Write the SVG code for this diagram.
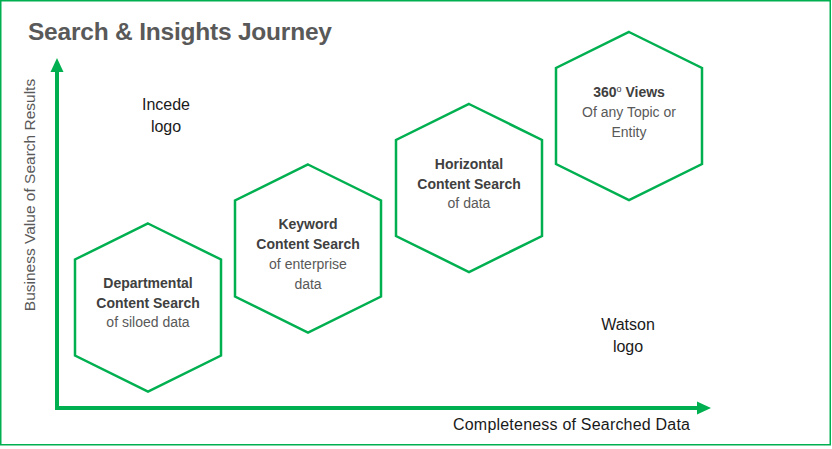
<svg xmlns="http://www.w3.org/2000/svg" width="832" height="449" viewBox="0 0 832 449">
<defs>
<style>
.hex{fill:#fff;stroke:#00b050;stroke-width:2.5;stroke-linejoin:miter}
.axis{stroke:#00b050;stroke-width:4;fill:none}
.t{font-family:"Liberation Sans",Arial,sans-serif;text-anchor:middle}
.b{font-size:14px;font-weight:bold;fill:#404040}
.r{font-size:14px;fill:#595959}
.lbl{font-size:16px;fill:#1a1a1a}
</style>
<polygon id="hexshape" points="0,-84 73,-48 73,48 0,84 -73,48 -73,-48"/>
</defs>
<rect x="0.75" y="0.75" width="829.5" height="444" fill="#fff" stroke="#00b050" stroke-width="1.5"/>
<text x="28" y="40" font-family="Liberation Sans,Arial,sans-serif" font-weight="bold" font-size="24.5" fill="#595959" textLength="304">Search &amp; Insights Journey</text>
<g id="connectors">
<polyline class="axis" points="57,70 57,408 699,408"/>
<polygon points="57,58 50.5,72 63.5,72" fill="#00b050"/>
<polygon points="711,408 697,401.5 697,414.5" fill="#00b050"/>
</g>
<text class="t" transform="translate(35,195) rotate(-90)" font-size="15.5" fill="#595959">Business Value of Search Results</text>
<text class="t lbl" x="453" y="430" style="text-anchor:start" textLength="237">Completeness of Searched Data</text>
<g id="incede">
<text class="t lbl" x="166" y="110">Incede</text>
<text class="t lbl" x="166" y="132">logo</text>
</g>
<g id="watson">
<text class="t lbl" x="628" y="330">Watson</text>
<text class="t lbl" x="628" y="352">logo</text>
</g>
<g id="hex1">
<use href="#hexshape" class="hex" x="148" y="307.5"/>
<text class="t b" x="148" y="288">Departmental</text>
<text class="t b" x="148" y="307.5">Content Search</text>
<text class="t r" x="148" y="327">of siloed data</text>
</g>
<g id="hex2">
<use href="#hexshape" class="hex" x="308" y="248.5"/>
<text class="t b" x="308" y="228.5">Keyword</text>
<text class="t b" x="308" y="248.5">Content Search</text>
<text class="t r" x="308" y="268.5">of enterprise</text>
<text class="t r" x="308" y="288.5">data</text>
</g>
<g id="hex3">
<use href="#hexshape" class="hex" x="469" y="188"/>
<text class="t b" x="469" y="168.5">Horizontal</text>
<text class="t b" x="469" y="188.5">Content Search</text>
<text class="t r" x="469" y="208">of data</text>
</g>
<g id="hex4">
<use href="#hexshape" class="hex" x="629" y="116"/>
<text class="t b" x="629" y="97">360<tspan font-size="9" dy="-5" font-weight="normal">o</tspan><tspan dy="5"> Views</tspan></text>
<text class="t r" x="629" y="117">Of any Topic or</text>
<text class="t r" x="629" y="137">Entity</text>
</g>
</svg>
